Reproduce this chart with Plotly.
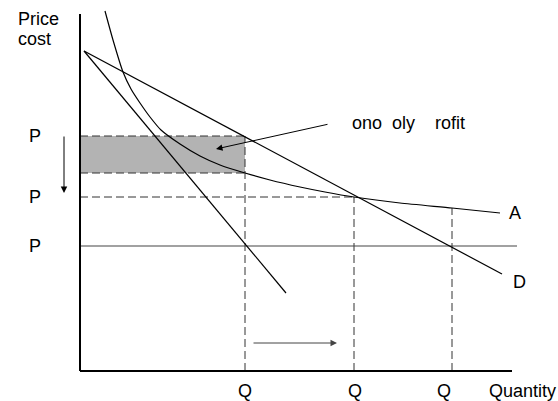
import plotly.graph_objects as go

# ---- data (economic units: quantity, price) ----
Q_levels = [16.5, 27.4, 37.2]          # Q1, Q2, Q3
P_levels = [23.5, 17.4, 12.5]          # P (monopoly), P (AC=D), P (low)
AC_at_Q1 = 19.8
AC_at_Q3 = 16.3

demand_q = [0.4, 42.2]
demand_p = [32.0, 9.7]

mr_q = [0.4, 20.6]
mr_p = [32.0, 7.8]

ac_q = [2.5, 3.3, 4.3, 5.1, 6.0, 7.0, 8.1, 10.0, 12.0, 14.0, 16.5, 19.0, 22.0, 24.5, 27.4, 32.0, 37.2, 42.0]
ac_p = [36.0, 33.1, 29.9, 28.2, 26.8, 25.4, 24.1, 22.7, 21.5, 20.6, 19.8, 19.1, 18.4, 17.9, 17.4, 16.8, 16.3, 15.8]

mc_line_end = 43.7
Q_AXIS_MAX = 43.2
P_AXIS_MAX = 35.7

profit_label = "ono\u00a0\u00a0oly\u00a0\u00a0\u00a0\u00a0rofit"
q_tick_labels = ["Q", "Q", "Q"]
p_tick_labels = ["P", "P", "P"]

FONT = "Liberation Sans, Arial, sans-serif"
DASH = "8px,4px"
DCOL = "#333333"

fig = go.Figure()

def line(xs, ys, color="black", width=1.2, dash=None, shape="linear"):
    fig.add_trace(go.Scatter(x=xs, y=ys, mode="lines", hoverinfo="skip",
                             line=dict(color=color, width=width, dash=dash, shape=shape,
                                       smoothing=0.6 if shape == "spline" else None),
                             showlegend=False))

# shaded monopoly profit area
fig.add_shape(type="rect", xref="x", yref="y", x0=0, x1=Q_levels[0],
              y0=AC_at_Q1, y1=P_levels[0], fillcolor="#b3b3b3", line=dict(width=0), layer="below")

# dashed guide lines
line([0, Q_levels[0]], [P_levels[0], P_levels[0]], DCOL, 1, DASH)
line([0, Q_levels[0]], [AC_at_Q1, AC_at_Q1], DCOL, 1, DASH)
line([Q_levels[0], Q_levels[0]], [0, P_levels[0]], DCOL, 1, DASH)
line([0, Q_levels[1]], [P_levels[1], P_levels[1]], DCOL, 1, DASH)
line([Q_levels[1], Q_levels[1]], [0, P_levels[1]], DCOL, 1, DASH)
line([Q_levels[2], Q_levels[2]], [0, AC_at_Q3], DCOL, 1, DASH)

# solid horizontal price line
line([0, mc_line_end], [P_levels[2], P_levels[2]], "#444444", 1.2)

# curves
line(demand_q, demand_p)
line(mr_q, mr_p)
line(ac_q, ac_p, shape="spline")

# axes
line([0, 0], [0, P_AXIS_MAX], "black", 2)
line([0, Q_AXIS_MAX], [0, 0], "black", 2)

ann = []
def text(x, y, t, size=18, xanchor="center"):
    ann.append(dict(x=x, y=y, xref="x", yref="y", text=t, showarrow=False,
                    font=dict(family=FONT, size=size, color="black"), xanchor=xanchor, yanchor="middle"))

text(-6.4, 35.2, "Price", xanchor="left")
text(-6.4, 33.2, "cost", xanchor="left")
for p, lab in zip(P_levels, p_tick_labels):
    text(-4.5, p, lab)
for q, lab in zip([16.5, 27.5, 36.4], q_tick_labels):
    text(q, -2.0, lab)
text(40.7, -2.0, "Quantity", xanchor="left")
text(27.0, 24.8, profit_label, xanchor="left")
text(43.5, 15.8, "A")
text(43.9, 8.9, "D")

# arrows
ann.append(dict(x=13.6, y=22.2, ax=24.9, ay=24.7, xref="x", yref="y", axref="x", ayref="y",
                showarrow=True, arrowhead=2, arrowsize=1.3, arrowwidth=1, arrowcolor="black",
                standoff=0, text=""))
ann.append(dict(x=-1.6, y=17.8, ax=-1.6, ay=23.6, xref="x", yref="y", axref="x", ayref="y",
                showarrow=True, arrowhead=2, arrowsize=1.3, arrowwidth=1, arrowcolor="black",
                standoff=0, text=""))
ann.append(dict(x=25.7, y=2.8, ax=17.2, ay=2.8, xref="x", yref="y", axref="x", ayref="y",
                showarrow=True, arrowhead=2, arrowsize=1.3, arrowwidth=1, arrowcolor="#444444",
                standoff=0, text=""))

fig.update_layout(
    width=558, height=401, margin=dict(l=0, r=0, t=0, b=0),
    plot_bgcolor="white", paper_bgcolor="white",
    xaxis=dict(range=[-8.0, 47.8], visible=False, fixedrange=True),
    yaxis=dict(range=[-3.0, 37.1], visible=False, fixedrange=True),
    annotations=ann, showlegend=False,
)

fig.write_html("out.html", config={"displayModeBar": False},
               post_script="document.body.style.margin='0';document.body.style.overflow='hidden';")
